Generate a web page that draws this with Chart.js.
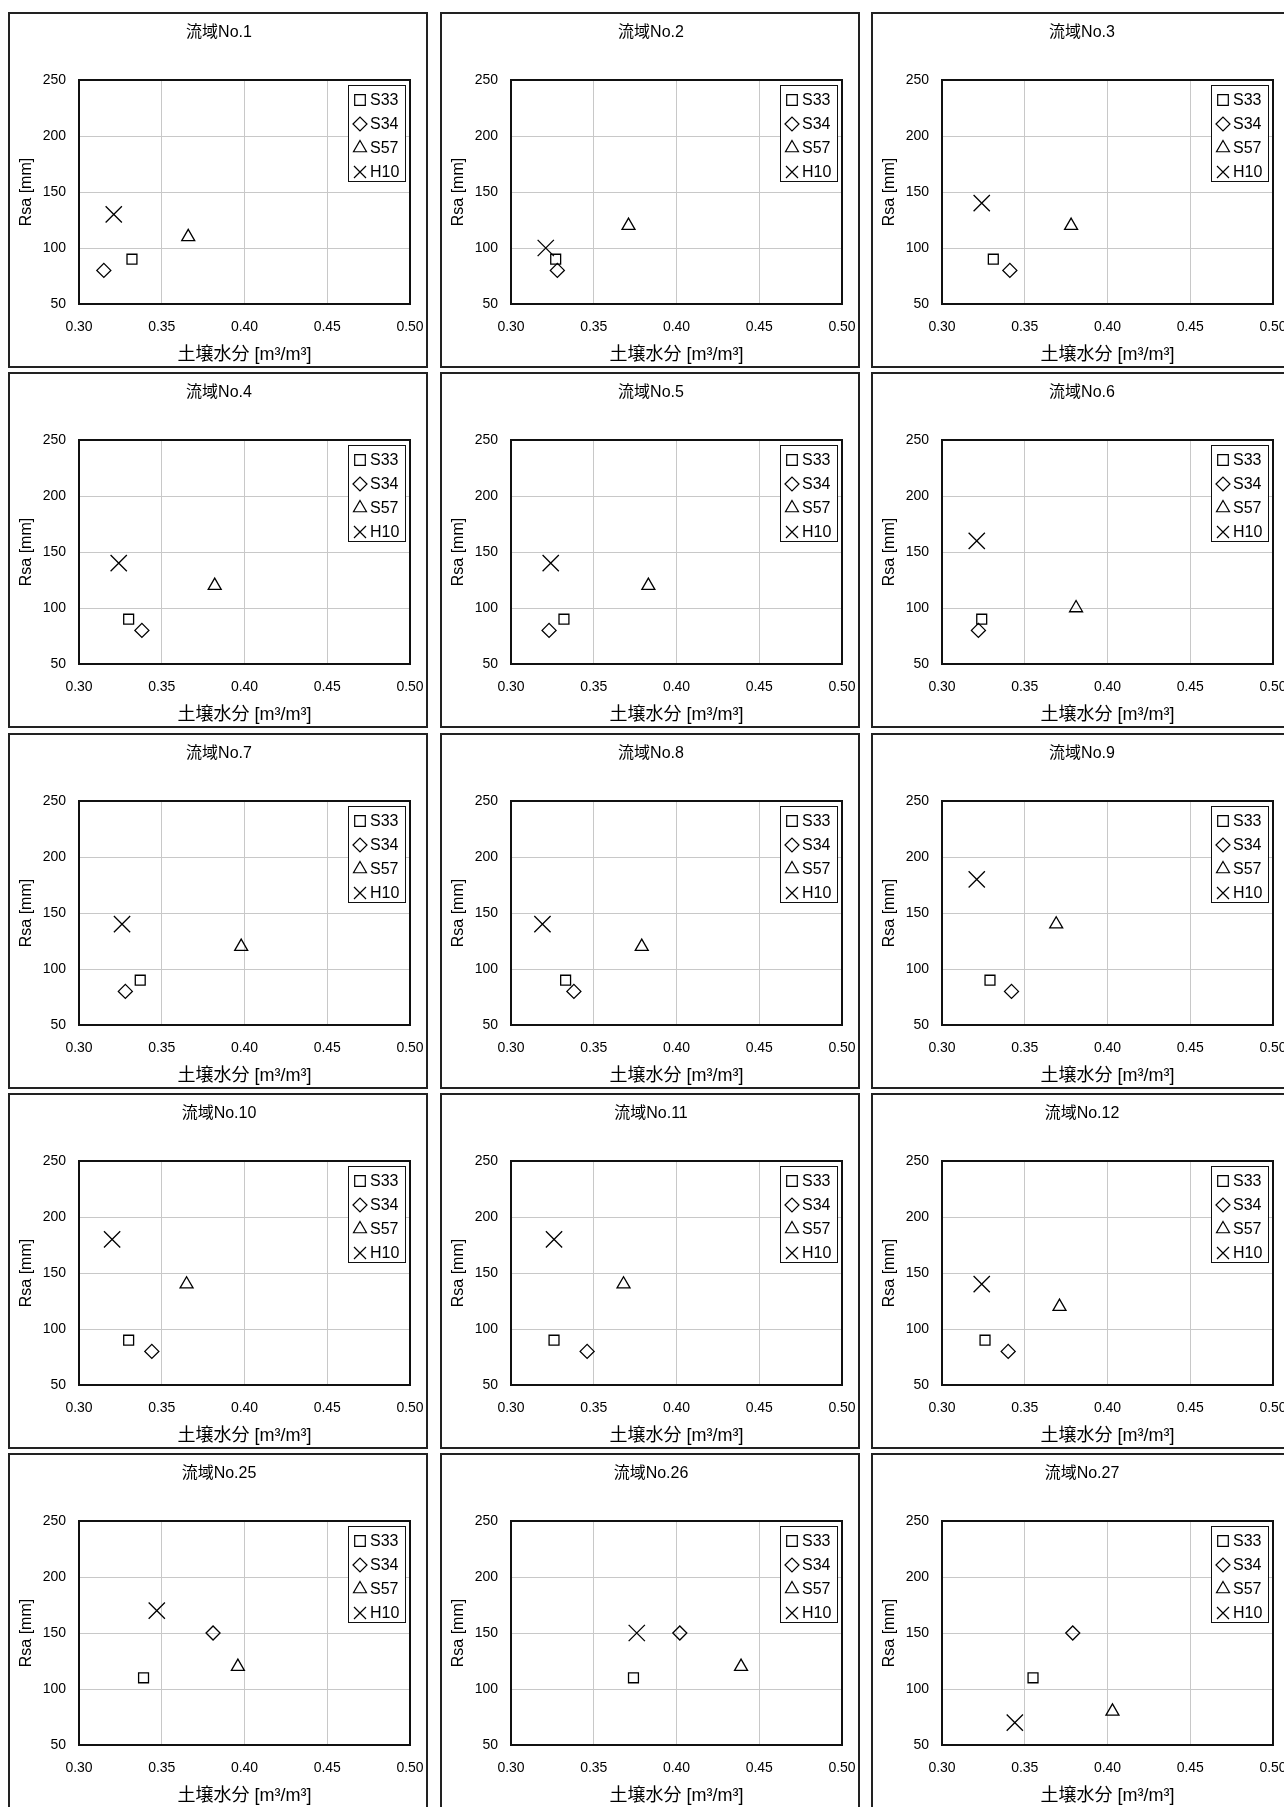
<!DOCTYPE html>
<html>
<head>
<meta charset="utf-8">
<script src="https://cdn.jsdelivr.net/npm/chart.js@4.4.0/dist/chart.umd.min.js"></script>
<style>
  html, body { margin: 0; padding: 0; background: #fff; overflow: hidden; width: 1284px; height: 1807px; }
  .panel { position: absolute; width: 416px; height: 352px; border: 2px solid #222; background: #fff; }
  .panel canvas { display: block; }
</style>
</head>
<body>
<script>
// Basins shown, one scatter panel each
const basins = ['流域No.1', '流域No.2', '流域No.3', '流域No.4', '流域No.5', '流域No.6',
                '流域No.7', '流域No.8', '流域No.9', '流域No.10', '流域No.11', '流域No.12',
                '流域No.25', '流域No.26', '流域No.27'];

const seriesNames = ['S33', 'S34', 'S57', 'H10'];

// Soil moisture [m3/m3] per basin, per event
const s33Moisture = [0.332, 0.327, 0.331, 0.330, 0.332, 0.324, 0.337, 0.333, 0.329, 0.330, 0.326, 0.326, 0.339, 0.374, 0.355];
const s34Moisture = [0.315, 0.328, 0.341, 0.338, 0.323, 0.322, 0.328, 0.338, 0.342, 0.344, 0.346, 0.340, 0.381, 0.402, 0.379];
const s57Moisture = [0.366, 0.371, 0.378, 0.382, 0.383, 0.381, 0.398, 0.379, 0.369, 0.365, 0.368, 0.371, 0.396, 0.439, 0.403];
const h10Moisture = [0.321, 0.321, 0.324, 0.324, 0.324, 0.321, 0.326, 0.319, 0.321, 0.320, 0.326, 0.324, 0.347, 0.376, 0.344];

// Rsa [mm] per basin, per event
const s33Rsa = [90, 90, 90, 90, 90, 90, 90, 90, 90, 90, 90, 90, 110, 110, 110];
const s34Rsa = [80, 80, 80, 80, 80, 80, 80, 80, 80, 80, 80, 80, 150, 150, 150];
const s57Rsa = [110, 120, 120, 120, 120, 100, 120, 120, 140, 140, 140, 120, 120, 120, 80];
const h10Rsa = [130, 100, 140, 140, 140, 160, 140, 140, 180, 180, 180, 140, 170, 150, 70];

// Axis ticks
const xTicks = [0.30, 0.35, 0.40, 0.45, 0.50];
const yTicks = [50, 100, 150, 200, 250];

// ---- presentation ----
const moistureBySeries = [s33Moisture, s34Moisture, s57Moisture, h10Moisture];
const rsaBySeries = [s33Rsa, s34Rsa, s57Rsa, h10Rsa];
const markerStyles = ['rect', 'rectRot', 'triangle', 'crossRot'];
const markerRadii = [7, 7, 7.5, 11.5];
const legendRadii = [7.5, 7, 7.5, 8.5];

const colLeft = [8, 440, 871];
const rowTop = [12, 372, 733, 1093, 1453];

const FAMILY = "'Liberation Sans', 'Noto Sans CJK JP', sans-serif";

// Panel heading, centred on the whole panel
const panelTitle = {
  id: 'panelTitle',
  afterDraw(chart, args, opts) {
    const { ctx } = chart;
    ctx.save();
    ctx.fillStyle = '#000';
    ctx.font = '16px ' + FAMILY;
    ctx.textAlign = 'center';
    ctx.textBaseline = 'middle';
    ctx.fillText(opts.text, chart.width / 2 + 1, 19);
    ctx.restore();
  }
};

// Black frame around the plotting area
const plotFrame = {
  id: 'plotFrame',
  beforeDatasetsDraw(chart) {
    const { ctx, chartArea: a } = chart;
    ctx.save();
    ctx.strokeStyle = '#111';
    ctx.lineWidth = 2;
    ctx.strokeRect(a.left, a.top, a.right - a.left, a.bottom - a.top);
    ctx.restore();
  }
};

// Boxed legend in the upper-right corner of the plotting area
const insetLegend = {
  id: 'insetLegend',
  afterDatasetsDraw(chart) {
    const { ctx, chartArea: a } = chart;
    const w = 58, h = 97;
    const left = a.right - 4 - w, top = a.top + 5;
    ctx.save();
    ctx.fillStyle = '#fff';
    ctx.fillRect(left, top, w, h);
    ctx.strokeStyle = '#111';
    ctx.lineWidth = 1;
    ctx.strokeRect(left + 0.5, top + 0.5, w - 1, h - 1);
    chart.data.datasets.forEach((ds, k) => {
      const cy = top + 15 + k * 24;
      ctx.strokeStyle = '#000';
      ctx.fillStyle = 'rgba(0,0,0,0)';
      ctx.lineWidth = 1.2;
      Chart.helpers.drawPoint(ctx, {
        pointStyle: ds.pointStyle, radius: legendRadii[k], rotation: 0, borderWidth: 1.2
      }, left + 12, cy);
      ctx.fillStyle = '#000';
      ctx.font = '16px ' + FAMILY;
      ctx.textAlign = 'left';
      ctx.textBaseline = 'middle';
      ctx.fillText(ds.label, left + 22, cy + 1);
    });
    ctx.restore();
  }
};

basins.forEach((name, i) => {
  const div = document.createElement('div');
  div.className = 'panel';
  div.style.left = colLeft[i % 3] + 'px';
  div.style.top = rowTop[Math.floor(i / 3)] + 'px';
  const canvas = document.createElement('canvas');
  canvas.width = 416;
  canvas.height = 352;
  div.appendChild(canvas);
  document.body.appendChild(div);

  const datasets = seriesNames.map((label, s) => ({
    label,
    data: [{ x: moistureBySeries[s][i], y: rsaBySeries[s][i] }],
    pointStyle: markerStyles[s],
    pointRadius: markerRadii[s],
    pointHoverRadius: markerRadii[s],
    pointBorderColor: '#000',
    pointBackgroundColor: 'rgba(0,0,0,0)',
    pointBorderWidth: 1.3,
    showLine: false
  }));

  new Chart(canvas, {
    type: 'scatter',
    data: { datasets },
    options: {
      responsive: false,
      animation: false,
      devicePixelRatio: 1,
      events: [],
      layout: { padding: { left: 0, right: 16, top: 66, bottom: 0 } },
      plugins: {
        legend: { display: false },
        tooltip: { enabled: false },
        title: { display: false },
        panelTitle: { text: name }
      },
      scales: {
        x: {
          type: 'linear',
          min: 0.30,
          max: 0.50,
          afterFit(scale) { scale.height = 62; scale.paddingLeft = 0; scale.paddingRight = 0; },
          afterBuildTicks(scale) { scale.ticks = xTicks.map(v => ({ value: v })); },
          grid: { color: '#c8c8c8', lineWidth: 1, drawTicks: false },
          border: { display: false },
          ticks: {
            color: '#000',
            padding: 15,
            maxRotation: 0,
            autoSkip: false,
            font: { family: FAMILY, size: 14 },
            callback: v => Number(v).toFixed(2)
          },
          title: {
            display: true,
            text: '土壌水分 [m³/m³]',
            color: '#000',
            font: { family: FAMILY, size: 18, lineHeight: 1.2 },
            padding: { top: 0, bottom: 0 }
          }
        },
        y: {
          type: 'linear',
          min: 50,
          max: 250,
          afterFit(scale) { scale.width = 69; scale.paddingTop = 0; scale.paddingBottom = 0; },
          afterBuildTicks(scale) { scale.ticks = yTicks.map(v => ({ value: v })); },
          grid: { color: '#c8c8c8', lineWidth: 1, drawTicks: false },
          border: { display: false },
          ticks: {
            color: '#000',
            padding: 13,
            font: { family: FAMILY, size: 14 },
            callback: v => String(v)
          },
          title: {
            display: true,
            text: 'Rsa [mm]',
            color: '#000',
            font: { family: FAMILY, size: 16, lineHeight: 1.2 },
            padding: { top: 7, bottom: 0 }
          }
        }
      }
    },
    plugins: [panelTitle, plotFrame, insetLegend]
  });
});
</script>
</body>
</html>
